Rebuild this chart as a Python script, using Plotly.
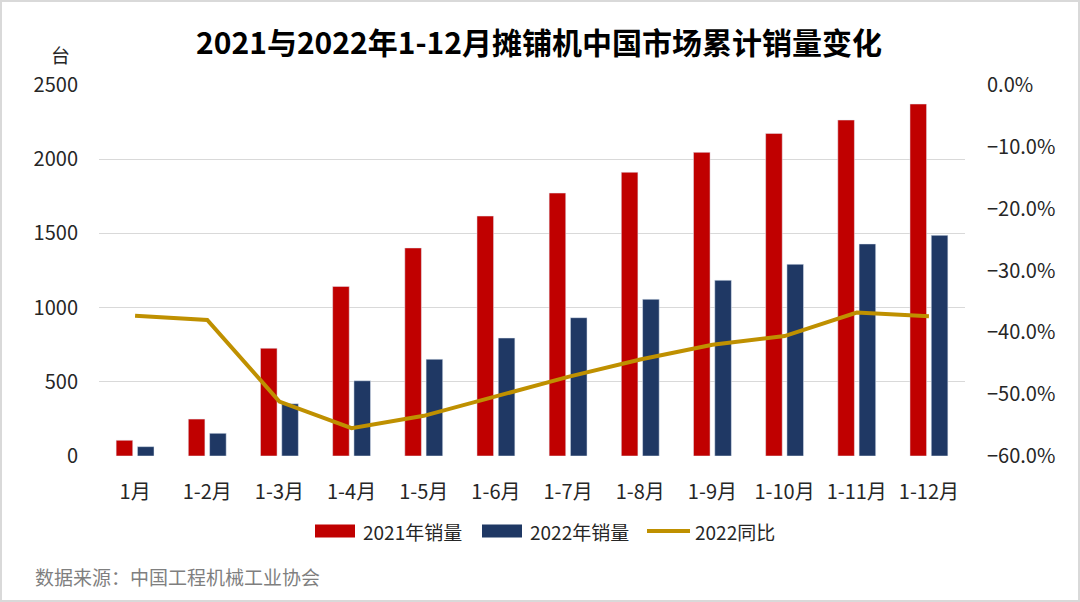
import plotly.graph_objects as go

categories = ["1月", "1-2月", "1-3月", "1-4月", "1-5月", "1-6月", "1-7月", "1-8月", "1-9月", "1-10月", "1-11月", "1-12月"]
sales_2021 = [106, 249, 726, 1143, 1402, 1617, 1772, 1912, 2046, 2174, 2264, 2372]
sales_2022 = [63, 153, 352, 507, 652, 795, 932, 1056, 1184, 1292, 1429, 1487]
yoy_2022 = [-0.373, -0.380, -0.512, -0.555, -0.535, -0.504, -0.472, -0.444, -0.420, -0.406, -0.368, -0.374]
series_names = ["2021年销量", "2022年销量", "2022同比"]
series_colors = ["#C00000", "#1F3864", "#BF9000"]

FONT = "Noto Sans CJK SC"
TXT = "#262626"

fig = go.Figure()
fig.add_trace(go.Bar(x=categories, y=sales_2021, name=series_names[0],
                     marker=dict(color=series_colors[0]), yaxis="y", showlegend=False))
fig.add_trace(go.Bar(x=categories, y=sales_2022, name=series_names[1],
                     marker=dict(color=series_colors[1]), yaxis="y", showlegend=False))
fig.add_trace(go.Scatter(x=categories, y=yoy_2022, name=series_names[2], mode="lines",
                         line=dict(color=series_colors[2], width=4), yaxis="y2", showlegend=False))

L, R, T, B = 99, 115, 85, 146
W, H = 1080, 602
pw, ph = W - L - R, H - T - B

def px_x(p):
    return (p - L) / pw

def px_y(p):
    return (H - B - p) / ph

annotations = [
    dict(text="台", xref="paper", yref="paper", x=px_x(60), y=px_y(55), showarrow=False,
         xanchor="center", yanchor="middle", font=dict(size=19, color=TXT)),
    dict(text="数据来源：中国工程机械工业协会", xref="paper", yref="paper", x=px_x(33), y=px_y(576),
         showarrow=False, xanchor="left", yanchor="middle", font=dict(size=19, color="#7F7F7F")),
]
shapes = [
    dict(type="rect", xref="paper", yref="paper", x0=px_x(1), x1=px_x(1079), y0=px_y(601), y1=px_y(1),
         line=dict(color="#D9D9D9", width=2), fillcolor="rgba(0,0,0,0)", layer="below"),
]

# manual legend
leg_y = 531
leg_items = [(315, 361, "rect"), (482, 528, "rect"), (647, 693, "line")]
for (sx, tx, kind), name, col in zip(leg_items, series_names, series_colors):
    if kind == "rect":
        shapes.append(dict(type="rect", xref="paper", yref="paper", x0=px_x(sx), x1=px_x(sx + 40),
                           y0=px_y(leg_y + 6.5), y1=px_y(leg_y - 6.5), fillcolor=col, line=dict(width=0)))
    else:
        shapes.append(dict(type="line", xref="paper", yref="paper", x0=px_x(sx), x1=px_x(sx + 43),
                           y0=px_y(leg_y), y1=px_y(leg_y), line=dict(color=col, width=4)))
    annotations.append(dict(text=name, xref="paper", yref="paper", x=px_x(tx), y=px_y(leg_y),
                            showarrow=False, xanchor="left", yanchor="middle",
                            font=dict(size=19, color=TXT)))

fig.update_layout(
    width=W, height=H,
    margin=dict(l=L, r=R, t=T, b=B),
    paper_bgcolor="white", plot_bgcolor="white",
    font=dict(family=FONT, size=19, color=TXT),
    barmode="group", bargap=0.41, bargroupgap=0.22,
    title=dict(text="<b>2021与2022年1-12月摊铺机中国市场累计销量变化</b>",
               x=539 / W, xref="container", xanchor="center", y=1 - 43 / H, yref="container", yanchor="middle",
               font=dict(family=FONT, size=30, color="#000000")),
    xaxis=dict(showgrid=False, showline=False, ticks="", tickfont=dict(size=20, color=TXT),
               ticklabelstandoff=22),
    yaxis=dict(range=[0, 2500], dtick=500, showgrid=True, gridcolor="#D9D9D9", gridwidth=1,
               zeroline=False, showline=False, ticks="", ticklen=0,
               tickfont=dict(size=20, color=TXT), ticklabelstandoff=20),
    yaxis2=dict(range=[-0.6, 0], dtick=0.1, tickformat=".1%", overlaying="y", side="right",
                showgrid=False, zeroline=False, showline=False, ticks="",
                tickfont=dict(size=20, color=TXT), ticklabelstandoff=21),
    showlegend=False,
    annotations=annotations,
    shapes=shapes,
)

fig.write_html("out.html", config={"displayModeBar": False},
               post_script="document.body.style.margin='0';")
